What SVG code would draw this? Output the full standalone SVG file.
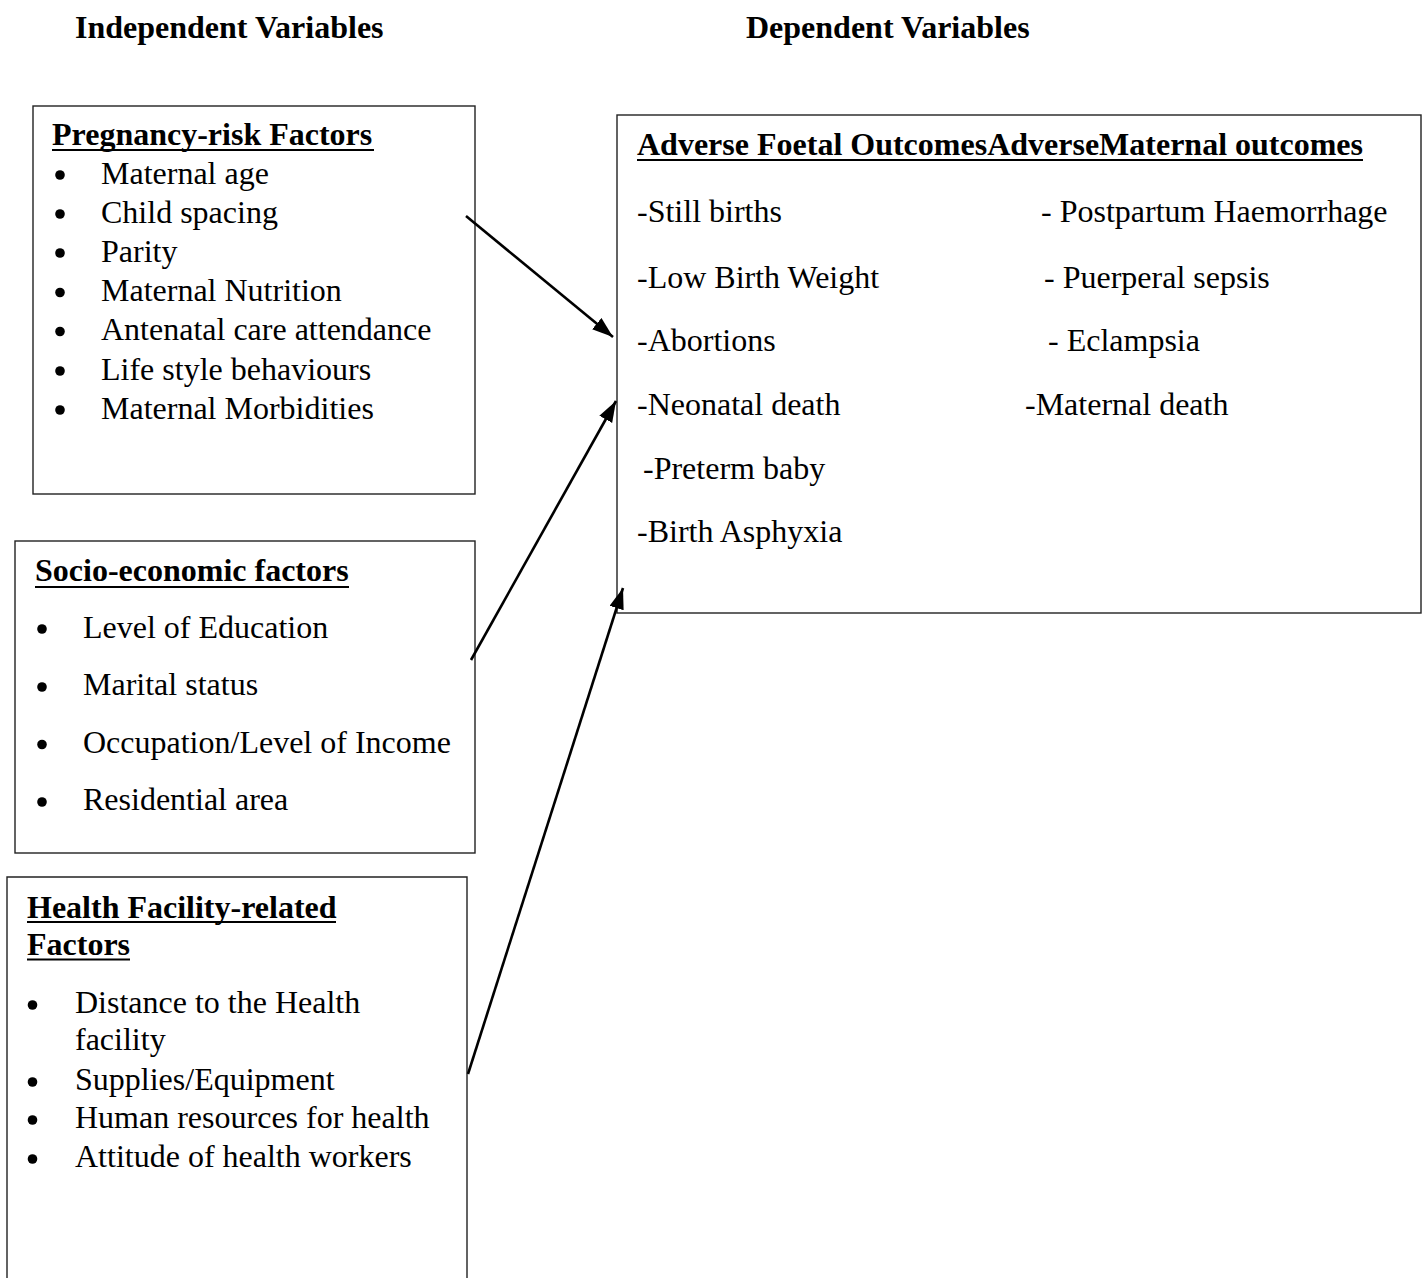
<svg xmlns="http://www.w3.org/2000/svg" width="1423" height="1278" viewBox="0 0 1423 1278">
<style>
text{font-family:"Liberation Serif","Times New Roman",serif;font-size:32px;fill:#000}
.b{font-weight:bold}
.box{fill:none;stroke:#222;stroke-width:1.4}
.ul{stroke:#000;stroke-width:2.2}
.conn{stroke:#000;stroke-width:2.6;fill:none}
</style>
<defs>
<marker id="ah2" viewBox="0 0 20 14" refX="20" refY="7" markerWidth="21" markerHeight="15" markerUnits="userSpaceOnUse" orient="auto">
<path d="M0,0 L20,7 L0,14 Z" fill="#000"/>
</marker>
</defs>
<g id="titles">
<text class="b" x="75" y="38">Independent Variables</text>
<text class="b" x="746" y="38">Dependent Variables</text>
</g>
<g id="pregnancy-risk">
<rect class="box" x="33" y="106" width="442" height="388"/>
<text class="b" x="52" y="145">Pregnancy-risk Factors</text>
<line class="ul" x1="52" y1="150" x2="374" y2="150"/>
<g>
<circle cx="60" cy="175" r="4.8"/><text x="101" y="183.5">Maternal age</text>
<circle cx="60" cy="214" r="4.8"/><text x="101" y="222.7">Child spacing</text>
<circle cx="60" cy="253" r="4.8"/><text x="101" y="261.9">Parity</text>
<circle cx="60" cy="292.5" r="4.8"/><text x="101" y="301.1">Maternal Nutrition</text>
<circle cx="60" cy="331.5" r="4.8"/><text x="101" y="340.3">Antenatal care attendance</text>
<circle cx="60" cy="371" r="4.8"/><text x="101" y="379.5">Life style behaviours</text>
<circle cx="60" cy="410" r="4.8"/><text x="101" y="418.7">Maternal Morbidities</text>
</g>
</g>
<g id="socio-economic">
<rect class="box" x="15" y="541" width="460" height="312"/>
<text class="b" x="35" y="581">Socio-economic factors</text>
<line class="ul" x1="35" y1="587" x2="349" y2="587"/>
<circle cx="42" cy="629" r="4.8"/><text x="83" y="637.5">Level of Education</text>
<circle cx="42" cy="687" r="4.8"/><text x="83" y="695">Marital status</text>
<circle cx="42" cy="744.5" r="4.8"/><text x="83" y="752.7">Occupation/Level of Income</text>
<circle cx="42" cy="802" r="4.8"/><text x="83" y="810">Residential area</text>
</g>
<g id="health-facility">
<path class="box" d="M7,1290 V877 H467 V1290"/>
<text class="b" x="27" y="918">Health Facility-related</text>
<line class="ul" x1="27" y1="922" x2="336" y2="922"/>
<text class="b" x="27" y="955">Factors</text>
<line class="ul" x1="27" y1="959.5" x2="130" y2="959.5"/>
<circle cx="32.5" cy="1005" r="4.8"/><text x="75" y="1013.3">Distance to the Health</text>
<text x="75" y="1050">facility</text>
<circle cx="32.5" cy="1082" r="4.8"/><text x="75" y="1090">Supplies/Equipment</text>
<circle cx="32.5" cy="1120" r="4.8"/><text x="75" y="1128.3">Human resources for health</text>
<circle cx="32.5" cy="1159" r="4.8"/><text x="75" y="1167.3">Attitude of health workers</text>
</g>
<g id="outcomes">
<rect class="box" x="617" y="115" width="804" height="498"/>
<text class="b" x="637" y="155">Adverse Foetal OutcomesAdverseMaternal outcomes</text>
<line class="ul" x1="637" y1="160" x2="1363" y2="160"/>
<text x="637" y="222">-Still births</text>
<text x="637" y="288">-Low Birth Weight</text>
<text x="637" y="351">-Abortions</text>
<text x="637" y="415">-Neonatal death</text>
<text x="643" y="479">-Preterm baby</text>
<text x="637" y="542">-Birth Asphyxia</text>
<text x="1041" y="222">- Postpartum Haemorrhage</text>
<text x="1044" y="288">- Puerperal sepsis</text>
<text x="1048" y="351">- Eclampsia</text>
<text x="1025" y="415">-Maternal death</text>
</g>
<g id="connectors">
<line class="conn" x1="466" y1="216" x2="613" y2="337" marker-end="url(#ah2)"/>
<line class="conn" x1="471" y1="660" x2="616" y2="401" marker-end="url(#ah2)"/>
<line class="conn" x1="468" y1="1074" x2="623" y2="588" marker-end="url(#ah2)"/>
</g>
</svg>
